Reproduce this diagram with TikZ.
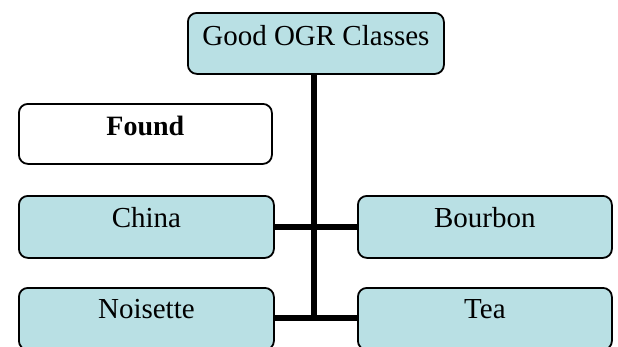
\documentclass[tikz,border=0pt]{standalone}
\usepackage{fontspec}
\setmainfont{Liberation Serif}
\definecolor{boxfill}{RGB}{185,224,228}
\begin{document}
\begin{tikzpicture}[x=1pt,y=1pt,
  box/.style={draw=black, line width=1.8pt, rounded corners=9pt, fill=boxfill,
    minimum width=254pt, minimum height=61pt, inner sep=0pt, anchor=north west},
  whitebox/.style={box, fill=white},
  lbl/.style={anchor=base, font=\fontsize{29}{32}\selectfont},
  conn/.style={draw=black, line width=6.5pt}]
\useasboundingbox (0,0) rectangle (618,-346);
% boxes
\node[box, minimum width=256pt] (top) at (187,-12) {};
\node[whitebox, minimum width=253pt, minimum height=60pt] (found) at (18,-103) {};
\node[box, minimum width=255pt, minimum height=62pt] (china) at (18,-195) {};
\node[box, minimum width=254pt, minimum height=62pt] (bourbon) at (357,-195) {};
\node[box, minimum width=255pt, minimum height=62pt] (noisette) at (18,-287) {};
\node[box, minimum width=254pt, minimum height=62pt] (tea) at (357,-287) {};
% labels
\node[lbl] (ttop) at ([yshift=-33pt]top.north) {Good OGR Classes};
\node[lbl, font=\fontsize{28}{31}\selectfont\bfseries] (tfound) at ([yshift=-32pt]found.north) {Found};
\node[lbl] (tchina) at ([yshift=-32pt]china.north) {China};
\node[lbl] (tbourbon) at ([yshift=-32pt]bourbon.north) {Bourbon};
\node[lbl] (tnoisette) at ([yshift=-31pt]noisette.north) {Noisette};
\node[lbl] (ttea) at ([yshift=-31pt]tea.north) {Tea};
% connectors
\coordinate (vtop) at (314,-73);
\coordinate (vend) at (314,-320);
\draw[conn] (vtop) -- (vend);
\draw[conn] (china.east) -- (bourbon.west);
\draw[conn] ([yshift=1pt]noisette.east) -- ([yshift=1pt]tea.west);
\end{tikzpicture}
\end{document}
